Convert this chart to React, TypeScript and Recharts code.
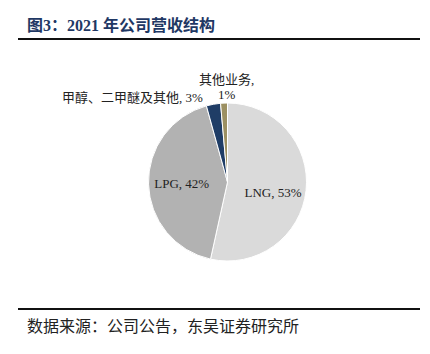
import { PieChart, Pie, Cell } from "recharts";

document.body.style.margin = "0";

const SEGMENTS = ["LNG", "LPG", "甲醇、二甲醚及其他", "其他业务"];
const SHARES = [53.4, 42.2, 2.9, 1.4];
const COLORS = ["#dadada", "#b2b2b2", "#1f3d66", "#9c9062"];

const data = SEGMENTS.map((name, i) => ({ name, value: SHARES[i] }));

const FONT = "'Liberation Serif', 'Times New Roman', 'Noto Sans CJK SC', serif";
const RAD = Math.PI / 180;

const renderLabel = (props: any) => {
  const { cx, cy, midAngle, outerRadius, percent, index, name } = props;
  const pct = `${Math.round(percent * 100)}%`;
  const cos = Math.cos(-midAngle * RAD);
  const sin = Math.sin(-midAngle * RAD);

  if (index < 2) {
    const r = outerRadius * 0.58;
    return (
      <text
        x={cx + r * cos}
        y={cy + r * sin + (index === 0 ? 6 : 0)}
        textAnchor="middle"
        dominantBaseline="central"
        fontSize={13}
        fill="#222"
        fontFamily={FONT}
      >
        {`${name}, ${pct}`}
      </text>
    );
  }

  const r = outerRadius + 9;
  if (index === 2) {
    return (
      <text
        x={cx + r * cos - 9}
        y={cy + r * sin + 2}
        textAnchor="end"
        dominantBaseline="central"
        fontSize={13}
        fill="#222"
        fontFamily={FONT}
      >
        {`${name}, ${pct}`}
      </text>
    );
  }

  const x = cx + r * cos + 3;
  const y = cy + r * sin;
  return (
    <text x={x} y={y} textAnchor="middle" fontSize={13} fill="#222" fontFamily={FONT}>
      <tspan x={x} dy={-10}>{`${name},`}</tspan>
      <tspan x={x} dy={15}>{pct}</tspan>
    </text>
  );
};

export default function App() {
  return (
    <div style={{ position: "relative", width: 430, height: 354, background: "#fff" }}>
      <div
        style={{
          position: "absolute",
          left: 27,
          top: 12,
          fontSize: 16,
          fontWeight: "bold",
          color: "#1f3864",
          fontFamily: FONT,
          whiteSpace: "nowrap",
        }}
      >
        图3：2021 年公司营收结构
      </div>
      <div style={{ position: "absolute", left: 18, top: 38, width: 402, height: 2, background: "#111" }} />
      <PieChart
        width={430}
        height={354}
        margin={{ top: 0, right: 0, bottom: 0, left: 0 }}
        style={{ position: "absolute", left: 0, top: 0 }}
      >
        <Pie
          data={data}
          dataKey="value"
          nameKey="name"
          cx={227.5}
          cy={182}
          outerRadius={79}
          startAngle={90}
          endAngle={-270}
          stroke="#fff"
          strokeWidth={1}
          label={renderLabel}
          labelLine={false}
          isAnimationActive={false}
        >
          {data.map((_, i) => (
            <Cell key={i} fill={COLORS[i]} />
          ))}
        </Pie>
      </PieChart>
      <div style={{ position: "absolute", left: 18, top: 308, width: 402, height: 1.5, background: "#111" }} />
      <div
        style={{
          position: "absolute",
          left: 27,
          top: 313,
          fontSize: 16,
          color: "#222",
          fontFamily: FONT,
          whiteSpace: "nowrap",
        }}
      >
        数据来源：公司公告，东吴证券研究所
      </div>
    </div>
  );
}
